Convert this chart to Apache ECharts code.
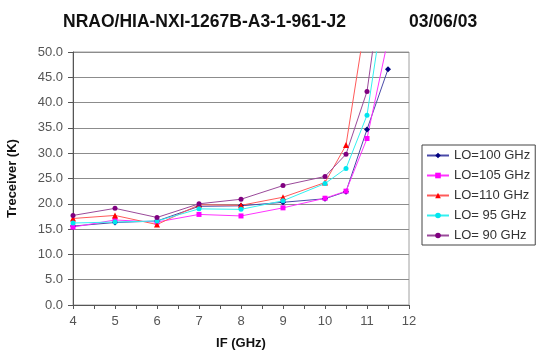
<!DOCTYPE html>
<html>
<head>
<meta charset="utf-8">
<script src="https://cdn.jsdelivr.net/npm/echarts@6/dist/echarts.min.js"></script>
<style>
  html, body { margin: 0; padding: 0; background: #fff; }
  #chart { width: 541px; height: 354px; }
</style>
</head>
<body>
<div id="chart"></div>
<script>
// IF frequencies (GHz) at which receiver temperature was measured
const ifGHz = [4, 5, 6, 7, 8, 9, 10, 10.5, 11, 11.5];

// Receiver temperature (K) per LO setting
const lo100 = [15.6, 16.3, 16.6, 19.5, 19.6, 20.3, 21.0, 22.4, 34.7, 46.6];
const lo105 = [15.4, 16.8, 16.4, 17.9, 17.6, 19.2, 21.1, 22.5, 32.9, 52.5];
const lo110 = [17.1, 17.7, 15.9, 19.8, 19.7, 21.3, 24.2, 31.6, 58.0];
const lo95  = [16.2, 16.4, 16.6, 19.0, 18.9, 20.6, 24.0, 27.0, 37.5, 65.0];
const lo90  = [17.7, 19.1, 17.3, 20.0, 20.9, 23.6, 25.4, 29.8, 42.2, 72.0];

const seriesNames = ['LO=100 GHz', 'LO=105 GHz', 'LO=110 GHz', 'LO= 95 GHz', 'LO= 90 GHz'];
const yTicks = [0, 5, 10, 15, 20, 25, 30, 35, 40, 45, 50];

const pairs = vals => vals.map((v, i) => [ifGHz[i], v]);

const FONT = 'Liberation Sans, Arial, sans-serif';

const styles = [
  { color: '#000080', line: '#4a4aa8', symbol: 'diamond', size: 6 },
  { color: '#ff00ff', line: '#ff33ff', symbol: 'rect', size: 5 },
  { color: '#ff0000', line: '#ff5a5a', symbol: 'triangle', size: 6 },
  { color: '#00e5ee', line: '#33f0f0', symbol: 'circle', size: 5 },
  { color: '#800080', line: '#9a4a9a', symbol: 'circle', size: 5 }
];
const dataSets = [lo100, lo105, lo110, lo95, lo90];

const chart = echarts.init(document.getElementById('chart'), null, { renderer: 'canvas' });

chart.setOption({
  animation: false,
  textStyle: { fontFamily: FONT },
  title: [
    {
      text: 'NRAO/HIA-NXI-1267B-A3-1-961-J2',
      left: 58, top: 8,
      textStyle: { fontSize: 17.5, fontWeight: 'bold', color: '#111', fontFamily: FONT }
    },
    {
      text: '03/06/03',
      left: 404, top: 8,
      textStyle: { fontSize: 17.5, fontWeight: 'bold', color: '#111', fontFamily: FONT }
    }
  ],
  grid: {
    left: 73, right: 132, top: 52, bottom: 49,
    outerBoundsMode: 'none',
    containLabel: false,
    show: true, borderColor: '#a0a0a0', borderWidth: 1, backgroundColor: '#fff'
  },
  legend: {
    orient: 'vertical',
    left: 422, top: 145,
    padding: [4, 5, 3, 4],
    itemGap: 7,
    itemWidth: 22, itemHeight: 7,
    borderColor: '#444', borderWidth: 1,
    textStyle: { fontSize: 13, color: '#333', fontFamily: FONT },
    data: seriesNames
  },
  xAxis: {
    type: 'value',
    min: 4, max: 12, interval: 1,
    name: 'IF (GHz)',
    nameLocation: 'middle', nameGap: 32,
    nameTextStyle: { fontSize: 13, fontWeight: 'bold', color: '#111' },
    axisLine: { lineStyle: { color: '#555', width: 1 } },
    axisTick: { show: true, length: 4, lineStyle: { color: '#555' } },
    minorTick: { show: true, splitNumber: 2, length: 4, lineStyle: { color: '#555' } },
    axisLabel: { fontSize: 13, color: '#555', margin: 10 },
    splitLine: { show: false }
  },
  yAxis: {
    type: 'value',
    min: yTicks[0], max: yTicks[yTicks.length - 1], interval: 5,
    name: 'Treceiver (K)',
    nameLocation: 'middle', nameGap: 54,
    nameTextStyle: { fontSize: 13, fontWeight: 'bold', color: '#111' },
    axisLine: { show: true, lineStyle: { color: '#555', width: 1 } },
    axisTick: { show: true, length: 5, lineStyle: { color: '#555' } },
    axisLabel: { fontSize: 13, color: '#555', margin: 10, formatter: v => v.toFixed(1) },
    splitLine: { show: true, lineStyle: { color: '#8c8c8c', width: 1 } }
  },
  series: dataSets.map((vals, i) => ({
    name: seriesNames[i],
    type: 'line',
    data: pairs(vals),
    clip: true,
    symbol: styles[i].symbol,
    symbolSize: styles[i].size,
    showAllSymbol: true,
    itemStyle: { color: styles[i].color },
    lineStyle: { color: styles[i].line, width: 1 },
    emphasis: { disabled: true }
  }))
});
</script>
</body>
</html>
